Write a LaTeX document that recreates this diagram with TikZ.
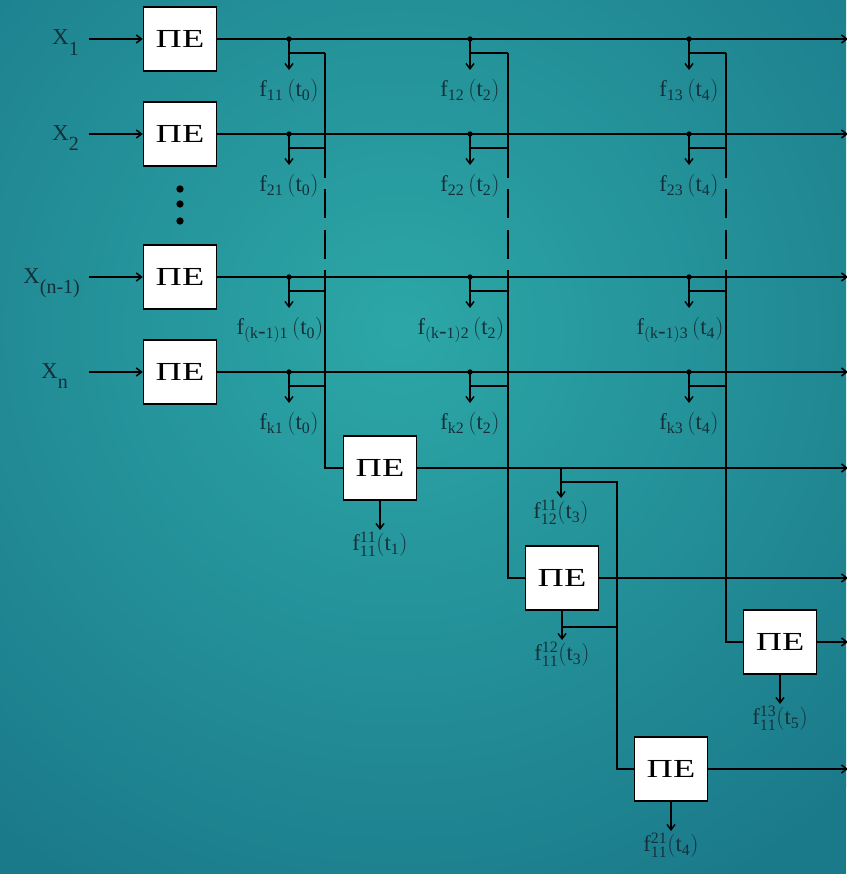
\documentclass[tikz,border=0pt]{standalone}
\usepackage{fontspec}
\setmainfont{Liberation Serif}
\usepackage{graphicx}
\usetikzlibrary{arrows.meta,positioning,calc}

\definecolor{bgin}{HTML}{2CA7A7}
\definecolor{bgout}{HTML}{1B7A8A}
\definecolor{lbl}{HTML}{13303A}

\newcommand{\petext}{\scalebox{1.4}[1]{ПЕ}}
\newcommand{\xin}[1]{X\raisebox{-0.45em}{\fontsize{15pt}{15pt}\selectfont #1}}

\begin{document}
\begin{tikzpicture}[
  x=0.75pt, y=-0.75pt, line width=1.1pt,
  font=\fontsize{17pt}{19pt}\selectfont,
  pe/.style={draw, fill=white, minimum width=54.75pt, minimum height=48pt,
             inner sep=0pt, font=\fontsize{19.5pt}{20pt}\selectfont},
  ar/.style={-{Straight Barb[length=4pt,width=6pt]}},
  lab/.style={anchor=north, text=lbl, inner sep=1pt, outer ysep=6pt},
  labs/.style={anchor=north, text=lbl, inner sep=1pt},
  dot/.style={circle, fill, inner sep=0pt, minimum size=4pt}]

% background
\useasboundingbox (0,0) rectangle (846,874);
\fill[bgout] (0,0) rectangle (846,874);
\begin{scope}
\clip (0,0) rectangle (846,874);
\shade[inner color=bgin, outer color=bgout] (400,330) circle (640);
\end{scope}

% input column
\node[pe] (pex1)  at (180, 39)  {\petext};
\node[pe] (pex2)  at (180,134)  {\petext};
\node[pe] (pexn1) at (180,277)  {\petext};
\node[pe] (pexn)  at (180,372)  {\petext};

\node[anchor=base east, text=lbl] (x1)  at (84, 45) {\xin{1}};
\node[anchor=base east, text=lbl] (x2)  at (84,140) {\xin{2}};
\node[anchor=base east, text=lbl] (xn1) at (85,283) {\xin{(n-1)}};
\node[anchor=base east, text=lbl] (xn)  at (73,378) {\xin{n}};

\coordinate (in1)  at (89, 39);
\coordinate (in2)  at (89,134);
\coordinate (inn1) at (89,277);
\coordinate (inn)  at (89,372);
\draw[ar] (in1)  -- (pex1.west);
\draw[ar] (in2)  -- (pex2.west);
\draw[ar] (inn1) -- (pexn1.west);
\draw[ar] (inn)  -- (pexn.west);

\foreach \yy in {189,204,221}
  \node[dot, minimum size=5.5pt] at (180,\yy) {};

% second stage
\node[pe] (pe11) at (380,468) {\petext};
\node[pe] (pe12) at (562,578) {\petext};
\node[pe] (pe13) at (780,642) {\petext};
\node[pe] (pe21) at (671,769) {\petext};

% outputs to the right edge
\coordinate (o1)  at (848, 39);
\coordinate (o2)  at (848,134);
\coordinate (on1) at (848,277);
\coordinate (on)  at (848,372);
\draw[ar] (pex1.east)  -- (o1);
\draw[ar] (pex2.east)  -- (o2);
\draw[ar] (pexn1.east) -- (on1);
\draw[ar] (pexn.east)  -- (on);
\draw[ar] (pe11.east) -- (pe11.east -| o1);
\draw[ar] (pe12.east) -- (pe12.east -| o1);
\draw[ar] (pe13.east) -- (pe13.east -| o1);
\draw[ar] (pe21.east) -- (pe21.east -| o1);

% taps on the row lines
\foreach \r/\y/\ri/\dx in {1/39/1/0, 2/134/2/0, 3/277/{(k\mbox{-}1)}/-9, 4/372/k/0}
  \foreach \c/\tx/\vx/\tt in {1/289/325/0, 2/470/508/2, 3/689/726/4} {
    \coordinate (t\r\c) at (\tx,\y);
    \node[dot] at (t\r\c) {};
    \node[lab, xshift=\dx*0.75pt] (f\r\c) at (\tx,\y+31)
      {$\mathrm{f}_{\mathrm{\ri\c}}\,(\mathrm{t}_{\mathrm{\tt}})$};
    \draw[ar] (t\r\c) -- (t\r\c |- f\r\c.north);
    \draw ($(t\r\c)+(0,14)$) -- (\vx,\y+14);
  }

% collecting verticals, broken between rows 2 and (n-1)
\foreach \vx/\dst in {325/pe11, 508/pe12, 726/pe13} {
  \draw (\vx,53)  -- (\vx,178);
  \draw (\vx,189) -- (\vx,218);
  \draw (\vx,230) -- (\vx,259);
  \draw (\vx,270) |- (\dst.west);
}

% second stage taps and results
\coordinate (s1) at (561,468);
\node[labs] (g1211) at (561,498) {$\mathrm{f}^{\mathrm{11}}_{\mathrm{12}}(\mathrm{t}_{\mathrm{3}})$};
\draw[ar] (s1) -- (g1211.north);
\draw (561,482) -- (617,482) |- (pe21.west);

\node[labs] (g1111) at (380,530) {$\mathrm{f}^{\mathrm{11}}_{\mathrm{11}}(\mathrm{t}_{\mathrm{1}})$};
\draw[ar] (pe11.south) -- (g1111.north);

\node[labs] (g1112) at (562,640) {$\mathrm{f}^{\mathrm{12}}_{\mathrm{11}}(\mathrm{t}_{\mathrm{3}})$};
\draw[ar] (pe12.south) -- (g1112.north);
\draw (562,627) -- (617,627);

\node[labs] (g1113) at (780,704) {$\mathrm{f}^{\mathrm{13}}_{\mathrm{11}}(\mathrm{t}_{\mathrm{5}})$};
\draw[ar] (pe13.south) -- (g1113.north);

\node[labs] (g1121) at (671,831) {$\mathrm{f}^{\mathrm{21}}_{\mathrm{11}}(\mathrm{t}_{\mathrm{4}})$};
\draw[ar] (pe21.south) -- (g1121.north);
\end{tikzpicture}
\end{document}
